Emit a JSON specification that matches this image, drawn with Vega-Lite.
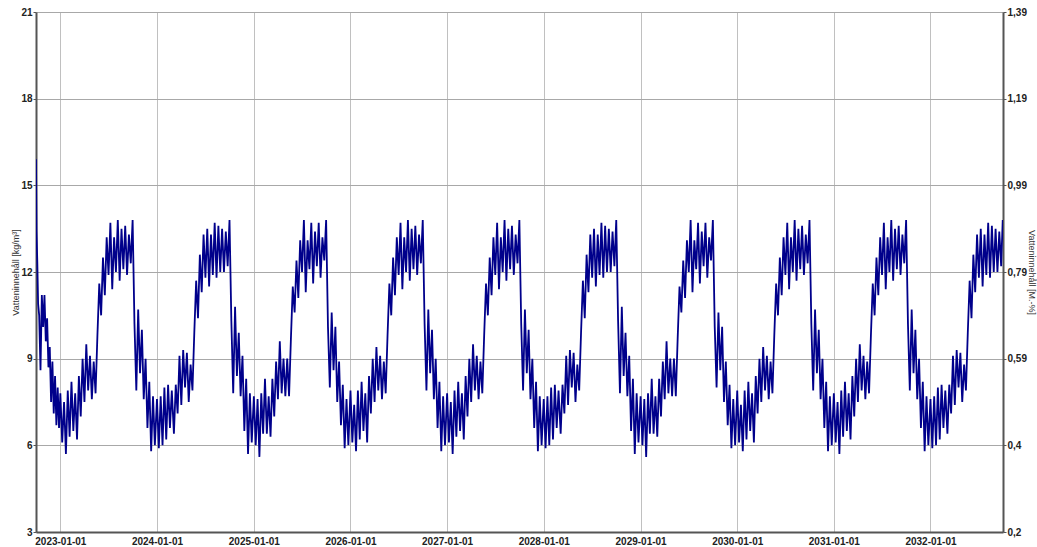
{
"$schema":"https://vega.github.io/schema/vega-lite/v6.json",
"width":967,"height":520,
"autosize":"none",
"padding":{"left":36,"top":12,"right":34,"bottom":15},
"background":"white",
"config":{"view":{"stroke":null},"font":"Liberation Sans"},
"data":{"values":[
{"d":"2022-10-01","v":15.9},{"d":"2022-10-03","v":13.4},{"d":"2022-10-06","v":12.3},{"d":"2022-10-09","v":10.9},{"d":"2022-10-13","v":10.5},{"d":"2022-10-18","v":8.6},{"d":"2022-10-23","v":11.2},{"d":"2022-10-28","v":10.1},{"d":"2022-11-02","v":11.2},{"d":"2022-11-07","v":9.6},{"d":"2022-11-12","v":10.4},{"d":"2022-11-17","v":8.7},{"d":"2022-11-22","v":9.4},{"d":"2022-11-27","v":7.5},{"d":"2022-12-02","v":8.9},{"d":"2022-12-07","v":7.1},{"d":"2022-12-12","v":8.4},{"d":"2022-12-17","v":6.7},{"d":"2022-12-22","v":8.0},{"d":"2022-12-27","v":6.6},
{"d":"2023-01-01","v":7.8},{"d":"2023-01-08","v":6.1},{"d":"2023-01-15","v":7.5},{"d":"2023-01-22","v":5.7},{"d":"2023-01-29","v":7.9},{"d":"2023-02-05","v":6.3},{"d":"2023-02-12","v":8.2},{"d":"2023-02-19","v":6.5},{"d":"2023-02-26","v":7.8},{"d":"2023-03-05","v":6.2},{"d":"2023-03-12","v":8.4},{"d":"2023-03-19","v":7.0},{"d":"2023-03-26","v":9.0},{"d":"2023-04-02","v":7.5},{"d":"2023-04-09","v":9.5},{"d":"2023-04-16","v":7.9},{"d":"2023-04-23","v":9.1},{"d":"2023-04-30","v":7.6},{"d":"2023-05-07","v":8.9},{"d":"2023-05-14","v":7.8},{"d":"2023-05-21","v":9.8},{"d":"2023-05-28","v":11.6},{"d":"2023-06-04","v":10.5},{"d":"2023-06-11","v":12.5},{"d":"2023-06-18","v":11.2},{"d":"2023-06-25","v":13.2},{"d":"2023-07-02","v":11.9},{"d":"2023-07-09","v":13.7},{"d":"2023-07-16","v":11.4},{"d":"2023-07-23","v":13.2},{"d":"2023-07-30","v":12.0},{"d":"2023-08-06","v":13.8},{"d":"2023-08-13","v":11.7},{"d":"2023-08-20","v":13.5},{"d":"2023-08-27","v":12.1},{"d":"2023-09-03","v":13.6},{"d":"2023-09-10","v":11.9},{"d":"2023-09-17","v":13.3},{"d":"2023-09-24","v":12.3},{"d":"2023-10-01","v":13.8},{"d":"2023-10-08","v":10.2},{"d":"2023-10-15","v":7.9},{"d":"2023-10-22","v":10.7},{"d":"2023-10-29","v":8.5},{"d":"2023-11-05","v":10.0},{"d":"2023-11-12","v":7.6},{"d":"2023-11-19","v":9.0},{"d":"2023-11-26","v":6.6},{"d":"2023-12-03","v":8.2},{"d":"2023-12-10","v":5.8},{"d":"2023-12-17","v":7.7},{"d":"2023-12-24","v":6.0},
{"d":"2024-01-01","v":7.6},{"d":"2024-01-08","v":5.9},{"d":"2024-01-15","v":7.7},{"d":"2024-01-22","v":6.0},{"d":"2024-01-29","v":8.0},{"d":"2024-02-05","v":6.2},{"d":"2024-02-12","v":8.1},{"d":"2024-02-19","v":6.6},{"d":"2024-02-26","v":7.9},{"d":"2024-03-05","v":6.4},{"d":"2024-03-12","v":8.1},{"d":"2024-03-19","v":7.1},{"d":"2024-03-26","v":9.1},{"d":"2024-04-02","v":7.4},{"d":"2024-04-09","v":9.3},{"d":"2024-04-16","v":8.0},{"d":"2024-04-23","v":9.2},{"d":"2024-04-30","v":7.5},{"d":"2024-05-07","v":8.8},{"d":"2024-05-14","v":7.9},{"d":"2024-05-21","v":9.9},{"d":"2024-05-28","v":11.7},{"d":"2024-06-04","v":10.4},{"d":"2024-06-11","v":12.6},{"d":"2024-06-18","v":11.3},{"d":"2024-06-25","v":13.3},{"d":"2024-07-02","v":11.8},{"d":"2024-07-09","v":13.5},{"d":"2024-07-16","v":11.5},{"d":"2024-07-23","v":13.3},{"d":"2024-07-30","v":11.9},{"d":"2024-08-06","v":13.7},{"d":"2024-08-13","v":11.8},{"d":"2024-08-20","v":13.6},{"d":"2024-08-27","v":12.0},{"d":"2024-09-03","v":13.5},{"d":"2024-09-10","v":12.0},{"d":"2024-09-17","v":13.4},{"d":"2024-09-24","v":12.2},{"d":"2024-10-01","v":13.8},{"d":"2024-10-08","v":10.3},{"d":"2024-10-15","v":7.8},{"d":"2024-10-22","v":10.8},{"d":"2024-10-29","v":8.4},{"d":"2024-11-05","v":9.9},{"d":"2024-11-12","v":7.7},{"d":"2024-11-19","v":9.1},{"d":"2024-11-26","v":6.5},{"d":"2024-12-03","v":8.3},{"d":"2024-12-10","v":5.7},{"d":"2024-12-17","v":7.8},{"d":"2024-12-24","v":6.1},
{"d":"2025-01-01","v":7.7},{"d":"2025-01-08","v":6.0},{"d":"2025-01-15","v":7.6},{"d":"2025-01-22","v":5.6},{"d":"2025-01-29","v":7.8},{"d":"2025-02-05","v":6.4},{"d":"2025-02-12","v":8.3},{"d":"2025-02-19","v":6.4},{"d":"2025-02-26","v":7.7},{"d":"2025-03-05","v":6.3},{"d":"2025-03-12","v":8.3},{"d":"2025-03-19","v":7.0},{"d":"2025-03-26","v":8.9},{"d":"2025-04-02","v":7.6},{"d":"2025-04-09","v":9.6},{"d":"2025-04-16","v":7.8},{"d":"2025-04-23","v":9.0},{"d":"2025-04-30","v":7.7},{"d":"2025-05-07","v":9.0},{"d":"2025-05-14","v":7.7},{"d":"2025-05-21","v":9.7},{"d":"2025-05-28","v":11.5},{"d":"2025-06-04","v":10.6},{"d":"2025-06-11","v":12.4},{"d":"2025-06-18","v":11.1},{"d":"2025-06-25","v":13.1},{"d":"2025-07-02","v":12.0},{"d":"2025-07-09","v":13.8},{"d":"2025-07-16","v":11.3},{"d":"2025-07-23","v":13.1},{"d":"2025-07-30","v":12.1},{"d":"2025-08-06","v":13.7},{"d":"2025-08-13","v":11.6},{"d":"2025-08-20","v":13.4},{"d":"2025-08-27","v":12.2},{"d":"2025-09-03","v":13.7},{"d":"2025-09-10","v":11.8},{"d":"2025-09-17","v":13.2},{"d":"2025-09-24","v":12.4},{"d":"2025-10-01","v":13.8},{"d":"2025-10-08","v":10.1},{"d":"2025-10-15","v":8.0},{"d":"2025-10-22","v":10.6},{"d":"2025-10-29","v":8.6},{"d":"2025-11-05","v":10.1},{"d":"2025-11-12","v":7.5},{"d":"2025-11-19","v":8.9},{"d":"2025-11-26","v":6.7},{"d":"2025-12-03","v":8.1},{"d":"2025-12-10","v":5.9},{"d":"2025-12-17","v":7.6},{"d":"2025-12-24","v":6.0},
{"d":"2026-01-01","v":7.9},{"d":"2026-01-08","v":6.1},{"d":"2026-01-15","v":7.4},{"d":"2026-01-22","v":5.8},{"d":"2026-01-29","v":7.9},{"d":"2026-02-05","v":6.2},{"d":"2026-02-12","v":8.2},{"d":"2026-02-19","v":6.5},{"d":"2026-02-26","v":7.8},{"d":"2026-03-05","v":6.1},{"d":"2026-03-12","v":8.4},{"d":"2026-03-19","v":7.1},{"d":"2026-03-26","v":9.0},{"d":"2026-04-02","v":7.5},{"d":"2026-04-09","v":9.4},{"d":"2026-04-16","v":7.9},{"d":"2026-04-23","v":9.1},{"d":"2026-04-30","v":7.6},{"d":"2026-05-07","v":8.9},{"d":"2026-05-14","v":7.8},{"d":"2026-05-21","v":9.8},{"d":"2026-05-28","v":11.6},{"d":"2026-06-04","v":10.5},{"d":"2026-06-11","v":12.5},{"d":"2026-06-18","v":11.2},{"d":"2026-06-25","v":13.2},{"d":"2026-07-02","v":11.9},{"d":"2026-07-09","v":13.7},{"d":"2026-07-16","v":11.4},{"d":"2026-07-23","v":13.2},{"d":"2026-07-30","v":12.0},{"d":"2026-08-06","v":13.8},{"d":"2026-08-13","v":11.7},{"d":"2026-08-20","v":13.5},{"d":"2026-08-27","v":12.1},{"d":"2026-09-03","v":13.6},{"d":"2026-09-10","v":11.9},{"d":"2026-09-17","v":13.3},{"d":"2026-09-24","v":12.3},{"d":"2026-10-01","v":13.8},{"d":"2026-10-08","v":10.2},{"d":"2026-10-15","v":7.9},{"d":"2026-10-22","v":10.7},{"d":"2026-10-29","v":8.5},{"d":"2026-11-05","v":10.0},{"d":"2026-11-12","v":7.6},{"d":"2026-11-19","v":9.0},{"d":"2026-11-26","v":6.6},{"d":"2026-12-03","v":8.2},{"d":"2026-12-10","v":5.8},{"d":"2026-12-17","v":7.7},{"d":"2026-12-24","v":6.0},
{"d":"2027-01-01","v":7.8},{"d":"2027-01-08","v":6.1},{"d":"2027-01-15","v":7.5},{"d":"2027-01-22","v":5.7},{"d":"2027-01-29","v":7.9},{"d":"2027-02-05","v":6.3},{"d":"2027-02-12","v":8.2},{"d":"2027-02-19","v":6.5},{"d":"2027-02-26","v":7.8},{"d":"2027-03-05","v":6.2},{"d":"2027-03-12","v":8.4},{"d":"2027-03-19","v":7.0},{"d":"2027-03-26","v":9.0},{"d":"2027-04-02","v":7.5},{"d":"2027-04-09","v":9.5},{"d":"2027-04-16","v":7.9},{"d":"2027-04-23","v":9.1},{"d":"2027-04-30","v":7.6},{"d":"2027-05-07","v":8.9},{"d":"2027-05-14","v":7.8},{"d":"2027-05-21","v":9.8},{"d":"2027-05-28","v":11.6},{"d":"2027-06-04","v":10.5},{"d":"2027-06-11","v":12.5},{"d":"2027-06-18","v":11.2},{"d":"2027-06-25","v":13.2},{"d":"2027-07-02","v":11.9},{"d":"2027-07-09","v":13.7},{"d":"2027-07-16","v":11.4},{"d":"2027-07-23","v":13.2},{"d":"2027-07-30","v":12.0},{"d":"2027-08-06","v":13.8},{"d":"2027-08-13","v":11.7},{"d":"2027-08-20","v":13.5},{"d":"2027-08-27","v":12.1},{"d":"2027-09-03","v":13.6},{"d":"2027-09-10","v":11.9},{"d":"2027-09-17","v":13.3},{"d":"2027-09-24","v":12.3},{"d":"2027-10-01","v":13.8},{"d":"2027-10-08","v":10.2},{"d":"2027-10-15","v":7.9},{"d":"2027-10-22","v":10.7},{"d":"2027-10-29","v":8.5},{"d":"2027-11-05","v":10.0},{"d":"2027-11-12","v":7.6},{"d":"2027-11-19","v":9.0},{"d":"2027-11-26","v":6.6},{"d":"2027-12-03","v":8.2},{"d":"2027-12-10","v":5.8},{"d":"2027-12-17","v":7.7},{"d":"2027-12-24","v":6.0},
{"d":"2028-01-01","v":7.6},{"d":"2028-01-08","v":5.9},{"d":"2028-01-15","v":7.7},{"d":"2028-01-22","v":6.0},{"d":"2028-01-29","v":8.0},{"d":"2028-02-05","v":6.2},{"d":"2028-02-12","v":8.1},{"d":"2028-02-19","v":6.6},{"d":"2028-02-26","v":7.9},{"d":"2028-03-05","v":6.4},{"d":"2028-03-12","v":8.1},{"d":"2028-03-19","v":7.1},{"d":"2028-03-26","v":9.1},{"d":"2028-04-02","v":7.4},{"d":"2028-04-09","v":9.3},{"d":"2028-04-16","v":8.0},{"d":"2028-04-23","v":9.2},{"d":"2028-04-30","v":7.5},{"d":"2028-05-07","v":8.8},{"d":"2028-05-14","v":7.9},{"d":"2028-05-21","v":9.9},{"d":"2028-05-28","v":11.7},{"d":"2028-06-04","v":10.4},{"d":"2028-06-11","v":12.6},{"d":"2028-06-18","v":11.3},{"d":"2028-06-25","v":13.3},{"d":"2028-07-02","v":11.8},{"d":"2028-07-09","v":13.5},{"d":"2028-07-16","v":11.5},{"d":"2028-07-23","v":13.3},{"d":"2028-07-30","v":11.9},{"d":"2028-08-06","v":13.7},{"d":"2028-08-13","v":11.8},{"d":"2028-08-20","v":13.6},{"d":"2028-08-27","v":12.0},{"d":"2028-09-03","v":13.5},{"d":"2028-09-10","v":12.0},{"d":"2028-09-17","v":13.4},{"d":"2028-09-24","v":12.2},{"d":"2028-10-01","v":13.8},{"d":"2028-10-08","v":10.3},{"d":"2028-10-15","v":7.8},{"d":"2028-10-22","v":10.8},{"d":"2028-10-29","v":8.4},{"d":"2028-11-05","v":9.9},{"d":"2028-11-12","v":7.7},{"d":"2028-11-19","v":9.1},{"d":"2028-11-26","v":6.5},{"d":"2028-12-03","v":8.3},{"d":"2028-12-10","v":5.7},{"d":"2028-12-17","v":7.8},{"d":"2028-12-24","v":6.1},
{"d":"2029-01-01","v":7.7},{"d":"2029-01-08","v":6.0},{"d":"2029-01-15","v":7.6},{"d":"2029-01-22","v":5.6},{"d":"2029-01-29","v":7.8},{"d":"2029-02-05","v":6.4},{"d":"2029-02-12","v":8.3},{"d":"2029-02-19","v":6.4},{"d":"2029-02-26","v":7.7},{"d":"2029-03-05","v":6.3},{"d":"2029-03-12","v":8.3},{"d":"2029-03-19","v":7.0},{"d":"2029-03-26","v":8.9},{"d":"2029-04-02","v":7.6},{"d":"2029-04-09","v":9.6},{"d":"2029-04-16","v":7.8},{"d":"2029-04-23","v":9.0},{"d":"2029-04-30","v":7.7},{"d":"2029-05-07","v":9.0},{"d":"2029-05-14","v":7.7},{"d":"2029-05-21","v":9.7},{"d":"2029-05-28","v":11.5},{"d":"2029-06-04","v":10.6},{"d":"2029-06-11","v":12.4},{"d":"2029-06-18","v":11.1},{"d":"2029-06-25","v":13.1},{"d":"2029-07-02","v":12.0},{"d":"2029-07-09","v":13.8},{"d":"2029-07-16","v":11.3},{"d":"2029-07-23","v":13.1},{"d":"2029-07-30","v":12.1},{"d":"2029-08-06","v":13.7},{"d":"2029-08-13","v":11.6},{"d":"2029-08-20","v":13.4},{"d":"2029-08-27","v":12.2},{"d":"2029-09-03","v":13.7},{"d":"2029-09-10","v":11.8},{"d":"2029-09-17","v":13.2},{"d":"2029-09-24","v":12.4},{"d":"2029-10-01","v":13.8},{"d":"2029-10-08","v":10.1},{"d":"2029-10-15","v":8.0},{"d":"2029-10-22","v":10.6},{"d":"2029-10-29","v":8.6},{"d":"2029-11-05","v":10.1},{"d":"2029-11-12","v":7.5},{"d":"2029-11-19","v":8.9},{"d":"2029-11-26","v":6.7},{"d":"2029-12-03","v":8.1},{"d":"2029-12-10","v":5.9},{"d":"2029-12-17","v":7.6},{"d":"2029-12-24","v":6.0},
{"d":"2030-01-01","v":7.9},{"d":"2030-01-08","v":6.1},{"d":"2030-01-15","v":7.4},{"d":"2030-01-22","v":5.8},{"d":"2030-01-29","v":7.9},{"d":"2030-02-05","v":6.2},{"d":"2030-02-12","v":8.2},{"d":"2030-02-19","v":6.5},{"d":"2030-02-26","v":7.8},{"d":"2030-03-05","v":6.1},{"d":"2030-03-12","v":8.4},{"d":"2030-03-19","v":7.1},{"d":"2030-03-26","v":9.0},{"d":"2030-04-02","v":7.5},{"d":"2030-04-09","v":9.4},{"d":"2030-04-16","v":7.9},{"d":"2030-04-23","v":9.1},{"d":"2030-04-30","v":7.6},{"d":"2030-05-07","v":8.9},{"d":"2030-05-14","v":7.8},{"d":"2030-05-21","v":9.8},{"d":"2030-05-28","v":11.6},{"d":"2030-06-04","v":10.5},{"d":"2030-06-11","v":12.5},{"d":"2030-06-18","v":11.2},{"d":"2030-06-25","v":13.2},{"d":"2030-07-02","v":11.9},{"d":"2030-07-09","v":13.7},{"d":"2030-07-16","v":11.4},{"d":"2030-07-23","v":13.2},{"d":"2030-07-30","v":12.0},{"d":"2030-08-06","v":13.8},{"d":"2030-08-13","v":11.7},{"d":"2030-08-20","v":13.5},{"d":"2030-08-27","v":12.1},{"d":"2030-09-03","v":13.6},{"d":"2030-09-10","v":11.9},{"d":"2030-09-17","v":13.3},{"d":"2030-09-24","v":12.3},{"d":"2030-10-01","v":13.8},{"d":"2030-10-08","v":10.2},{"d":"2030-10-15","v":7.9},{"d":"2030-10-22","v":10.7},{"d":"2030-10-29","v":8.5},{"d":"2030-11-05","v":10.0},{"d":"2030-11-12","v":7.6},{"d":"2030-11-19","v":9.0},{"d":"2030-11-26","v":6.6},{"d":"2030-12-03","v":8.2},{"d":"2030-12-10","v":5.8},{"d":"2030-12-17","v":7.7},{"d":"2030-12-24","v":6.0},
{"d":"2031-01-01","v":7.8},{"d":"2031-01-08","v":6.1},{"d":"2031-01-15","v":7.5},{"d":"2031-01-22","v":5.7},{"d":"2031-01-29","v":7.9},{"d":"2031-02-05","v":6.3},{"d":"2031-02-12","v":8.2},{"d":"2031-02-19","v":6.5},{"d":"2031-02-26","v":7.8},{"d":"2031-03-05","v":6.2},{"d":"2031-03-12","v":8.4},{"d":"2031-03-19","v":7.0},{"d":"2031-03-26","v":9.0},{"d":"2031-04-02","v":7.5},{"d":"2031-04-09","v":9.5},{"d":"2031-04-16","v":7.9},{"d":"2031-04-23","v":9.1},{"d":"2031-04-30","v":7.6},{"d":"2031-05-07","v":8.9},{"d":"2031-05-14","v":7.8},{"d":"2031-05-21","v":9.8},{"d":"2031-05-28","v":11.6},{"d":"2031-06-04","v":10.5},{"d":"2031-06-11","v":12.5},{"d":"2031-06-18","v":11.2},{"d":"2031-06-25","v":13.2},{"d":"2031-07-02","v":11.9},{"d":"2031-07-09","v":13.7},{"d":"2031-07-16","v":11.4},{"d":"2031-07-23","v":13.2},{"d":"2031-07-30","v":12.0},{"d":"2031-08-06","v":13.8},{"d":"2031-08-13","v":11.7},{"d":"2031-08-20","v":13.5},{"d":"2031-08-27","v":12.1},{"d":"2031-09-03","v":13.6},{"d":"2031-09-10","v":11.9},{"d":"2031-09-17","v":13.3},{"d":"2031-09-24","v":12.3},{"d":"2031-10-01","v":13.8},{"d":"2031-10-08","v":10.2},{"d":"2031-10-15","v":7.9},{"d":"2031-10-22","v":10.7},{"d":"2031-10-29","v":8.5},{"d":"2031-11-05","v":10.0},{"d":"2031-11-12","v":7.6},{"d":"2031-11-19","v":9.0},{"d":"2031-11-26","v":6.6},{"d":"2031-12-03","v":8.2},{"d":"2031-12-10","v":5.8},{"d":"2031-12-17","v":7.7},{"d":"2031-12-24","v":6.0},
{"d":"2032-01-01","v":7.6},{"d":"2032-01-08","v":5.9},{"d":"2032-01-15","v":7.7},{"d":"2032-01-22","v":6.0},{"d":"2032-01-29","v":8.0},{"d":"2032-02-05","v":6.2},{"d":"2032-02-12","v":8.1},{"d":"2032-02-19","v":6.6},{"d":"2032-02-26","v":7.9},{"d":"2032-03-05","v":6.4},{"d":"2032-03-12","v":8.1},{"d":"2032-03-19","v":7.1},{"d":"2032-03-26","v":9.1},{"d":"2032-04-02","v":7.4},{"d":"2032-04-09","v":9.3},{"d":"2032-04-16","v":8.0},{"d":"2032-04-23","v":9.2},{"d":"2032-04-30","v":7.5},{"d":"2032-05-07","v":8.8},{"d":"2032-05-14","v":7.9},{"d":"2032-05-21","v":9.9},{"d":"2032-05-28","v":11.7},{"d":"2032-06-04","v":10.4},{"d":"2032-06-11","v":12.6},{"d":"2032-06-18","v":11.3},{"d":"2032-06-25","v":13.3},{"d":"2032-07-02","v":11.8},{"d":"2032-07-09","v":13.5},{"d":"2032-07-16","v":11.5},{"d":"2032-07-23","v":13.3},{"d":"2032-07-30","v":11.9},{"d":"2032-08-06","v":13.7},{"d":"2032-08-13","v":11.8},{"d":"2032-08-20","v":13.6},{"d":"2032-08-27","v":12.0},{"d":"2032-09-03","v":13.5},{"d":"2032-09-10","v":12.0},{"d":"2032-09-17","v":13.4},{"d":"2032-09-24","v":12.2},{"d":"2032-09-30","v":13.8}
]},
"layer":[
{"mark":{"type":"line","color":"#00008b","strokeWidth":1.8,"clip":true},
 "encoding":{
  "x":{"field":"d","type":"temporal",
   "scale":{"type":"utc","domain":[{"year":2022,"month":10,"date":1,"utc":true},{"year":2032,"month":10,"date":1,"utc":true}]},
   "axis":{"title":null,"values":[{"year":2023,"month":1,"date":1,"utc":true},{"year":2024,"month":1,"date":1,"utc":true},{"year":2025,"month":1,"date":1,"utc":true},{"year":2026,"month":1,"date":1,"utc":true},{"year":2027,"month":1,"date":1,"utc":true},{"year":2028,"month":1,"date":1,"utc":true},{"year":2029,"month":1,"date":1,"utc":true},{"year":2030,"month":1,"date":1,"utc":true},{"year":2031,"month":1,"date":1,"utc":true},{"year":2032,"month":1,"date":1,"utc":true}],
    "labelExpr":"utcFormat(datum.value,'%Y-%m-%d')","grid":true,"gridColor":"#c0c0c0","gridWidth":1,"ticks":false,"labelPadding":4,"labelFontSize":10,"labelFontWeight":"bold","labelColor":"#222","domainColor":"#555","domainWidth":2,"labelFlush":false,"labelOverlap":false}},
  "y":{"field":"v","type":"quantitative","scale":{"domain":[3,21],"nice":false,"zero":false},
   "axis":{"title":"Vatteninnehåll [kg/m³]","values":[3,6,9,12,15,18,21],"grid":true,"gridColor":"#a8a8a8","gridWidth":1,"tickSize":3,"tickColor":"#555","domainColor":"#555","domainWidth":2,"labelFontSize":10,"labelFontWeight":"bold","labelColor":"#222","labelPadding":1,"titleFontSize":9,"titleFontWeight":"normal","titleColor":"#333","titleX":-21,"titleBaseline":"middle"}}
 }},
{"mark":{"type":"line","opacity":0},
 "encoding":{
  "x":{"field":"d","type":"temporal","scale":{"type":"utc","domain":[{"year":2022,"month":10,"date":1,"utc":true},{"year":2032,"month":10,"date":1,"utc":true}]}},
  "y":{"field":"v","type":"quantitative","scale":{"domain":[3,21],"nice":false,"zero":false},
   "axis":{"orient":"right","title":"Vatteninnehåll [M.-%]","values":[3,6,9,12,15,18,21],"labelExpr":"datum.value==3?'0,2':datum.value==6?'0,4':datum.value==9?'0,59':datum.value==12?'0,79':datum.value==15?'0,99':datum.value==18?'1,19':'1,39'","grid":false,"tickSize":3,"tickColor":"#555","domainColor":"#555","domainWidth":2,"labelFontSize":10,"labelFontWeight":"bold","labelColor":"#222","labelPadding":1,"titleFontSize":9,"titleFontWeight":"normal","titleColor":"#333","titleX":28,"titleBaseline":"middle"}}
 }}
],
"resolve":{"scale":{"y":"independent"}}
}
